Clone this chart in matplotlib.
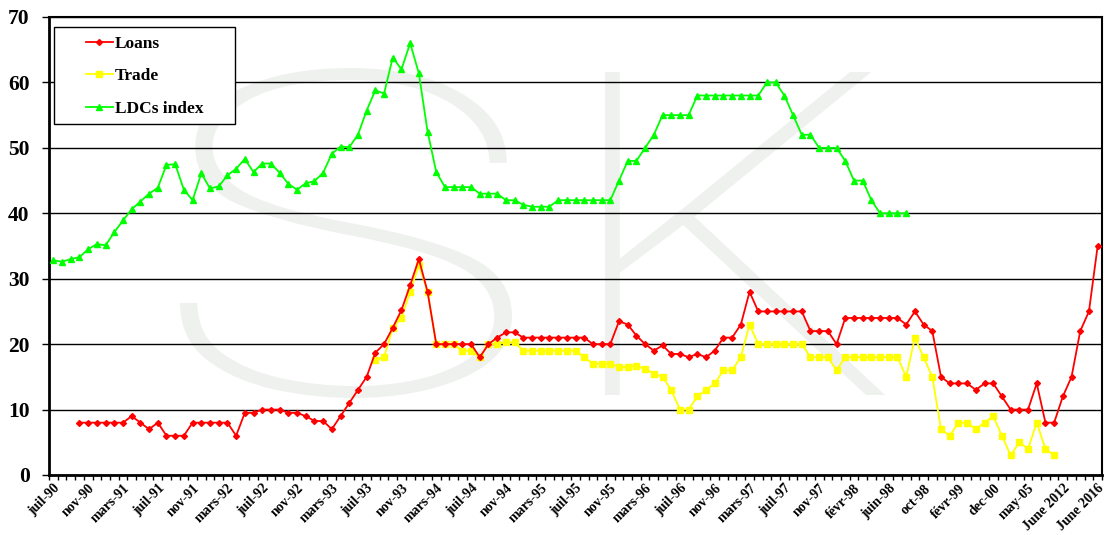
import numpy as np
import matplotlib
matplotlib.use("Agg")
import matplotlib.pyplot as plt
from matplotlib.textpath import TextPath
from matplotlib.patches import PathPatch, Rectangle
from matplotlib.font_manager import FontProperties
from matplotlib.transforms import Affine2D

# x axis: 121 periods, a label every 4th period
n_periods = 121
tick_labels = ["juil-90", "nov-90", "mars-91", "juil-91", "nov-91", "mars-92",
               "juil-92", "nov-92", "mars-93", "juil-93", "nov-93", "mars-94",
               "juil-94", "nov-94", "mars-95", "juil-95", "nov-95", "mars-96",
               "juil-96", "nov-96", "mars-97", "juil-97", "nov-97", "févr-98",
               "juin-98", "oct-98", "févr-99", "dec-00", "may-05", "June 2012",
               "June 2016"]

loans_start = 3
loans = [8, 8, 8, 8, 8, 8, 9, 8, 7, 8, 6, 6, 6, 8, 8, 8, 8, 8, 6, 9.5, 9.5,
         10, 10, 10, 9.5, 9.5, 9, 8.25, 8.25, 7, 9, 11, 13, 15, 18.7, 20, 22.5,
         25.2, 29, 33, 28, 20, 20, 20, 20, 20, 18, 20, 21, 21.8, 21.8,
         21, 21, 21, 21, 21, 21, 21, 21, 20, 20, 20, 23.5, 23, 21.3, 20, 19,
         19.8, 18.5, 18.5, 18, 18.5, 18, 19, 21, 21, 23, 28,
         25, 25, 25, 25, 25, 25, 22, 22, 22, 20, 24, 24, 24, 24, 24, 24, 24,
         23, 25, 23, 22, 15, 14, 14, 14, 13, 14, 14, 12, 10, 10, 10, 14, 8, 8,
         12, 15, 22, 25, 35]

trade_start = 37
trade = [17.6, 18, 22.5, 24, 28, 32.1, 28, 20, 20, 20, 19, 19, 18, 20, 20,
         20.3, 20.3, 19, 19, 19, 19, 19, 19, 19, 18, 17, 17, 17, 16.5, 16.5,
         16.7, 16.2, 15.5, 15, 13, 10, 10, 12, 13, 14, 16, 16, 18, 23,
         20, 20, 20, 20, 20, 20, 18, 18, 18, 16, 18, 18, 18, 18, 18, 18, 18,
         15, 21, 18, 15, 7, 6, 8, 8, 7, 8, 9, 6, 3, 5, 4, 8, 4, 3]

ldc_start = 0
ldc = [32.8, 32.6, 33.0, 33.3, 34.5, 35.3, 35.1, 37.1, 38.9, 40.6, 41.8, 43.0,
       43.9, 47.4, 47.5, 43.6, 42.0, 46.1, 43.8, 44.1, 45.8, 46.8, 48.3, 46.3,
       47.6, 47.6, 46.2, 44.5, 43.6, 44.6, 44.9, 46.2, 49.1, 50.2, 50.1, 52.0,
       55.7, 58.8, 58.3, 63.8, 62.0, 66.0, 61.4, 52.5, 46.3, 44, 44, 44, 44,
       43, 43, 43, 42, 42, 41.3, 41, 41, 41, 42, 42, 42, 42, 42, 42, 42,
       45, 48, 48, 50, 52, 55, 55, 55, 55, 58, 58, 58, 58, 58, 58, 58, 58,
       60, 60, 58, 55, 52, 52, 50, 50, 50, 48, 45, 45, 42, 40, 40, 40, 40]

serif = "Liberation Serif"
W, H = 1110, 535

fig = plt.figure(figsize=(W / 100, H / 100), dpi=100)
ax = fig.add_axes([49 / W, 1 - 475 / H, 1053 / W, 458 / H])
ax.patch.set_alpha(0)


def watermark(letter, x0, y0, x1, y1):
    # faint letter stretched into a pixel box (top-left origin)
    tp = TextPath((0, 0), letter, size=1,
                  prop=FontProperties(family="Roboto", weight=100))
    ext = tp.get_extents()
    tr = (Affine2D().translate(-ext.x0, -ext.y0)
          .scale((x1 - x0) / ext.width / W, (y1 - y0) / ext.height / H)
          .translate(x0 / W, 1 - y1 / H))
    fig.add_artist(PathPatch(tr.transform_path(tp), transform=fig.transFigure,
                             facecolor="#eff1ef", edgecolor="none", zorder=-1))


watermark("S", 180, 68, 512, 398)
watermark("K", 605, 72, 885, 395)

ax.plot(np.arange(loans_start, loans_start + len(loans)), loans, color="#ff0000",
        lw=1.3, marker="D", ms=3, label="Loans", zorder=4)
ax.plot(np.arange(trade_start, trade_start + len(trade)), trade, color="#ffff00",
        lw=1.3, marker="s", ms=4.5, label="Trade", zorder=3)
ax.plot(np.arange(ldc_start, ldc_start + len(ldc)), ldc, color="#00ff00",
        lw=1.3, marker="^", ms=4.5, label="LDCs index", zorder=3)

ax.set_xlim(-0.5, n_periods - 0.5)
ax.set_ylim(0, 70)
ax.set_yticks(range(0, 71, 10))
ax.yaxis.grid(True, color="black", lw=1.0)
ax.set_axisbelow(True)

# ticks between every period, labels on every 4th period
ax.set_xticks(np.arange(-0.5, n_periods, 1), minor=True)
ax.set_xticks(np.arange(0, n_periods, 4))
ax.set_xticklabels(tick_labels, rotation=45, ha="right", va="top",
                   rotation_mode="anchor", fontsize=10, fontweight="bold",
                   family=serif)
ax.tick_params(axis="x", which="major", length=0, pad=5)
ax.tick_params(axis="x", which="minor", length=3.5, width=1, direction="out")
ax.tick_params(axis="y", length=5, width=1, direction="out", pad=9)
for lab in ax.get_yticklabels():
    lab.set_fontsize(15.5)
    lab.set_fontweight("bold")
    lab.set_family(serif)

ax.spines["left"].set_linewidth(2)
ax.spines["bottom"].set_linewidth(2)
ax.spines["right"].set_linewidth(1.5)
ax.spines["top"].set_linewidth(1.5)

# legend box with wide Excel-style padding
fig.add_artist(Rectangle((54 / W, 1 - 124 / H), 181 / W, 97 / H,
                         transform=fig.transFigure, facecolor="white",
                         edgecolor="black", lw=1, zorder=5))
leg = fig.legend(loc="upper left", bbox_to_anchor=(86 / W, 1 - 36 / H),
                 frameon=False, prop={"family": serif, "weight": "bold", "size": 12.5},
                 handlelength=1.55, labelspacing=0.93, borderpad=0,
                 handletextpad=0.1, borderaxespad=0)
leg.set_zorder(6)

fig.savefig("out.png", dpi=100)
